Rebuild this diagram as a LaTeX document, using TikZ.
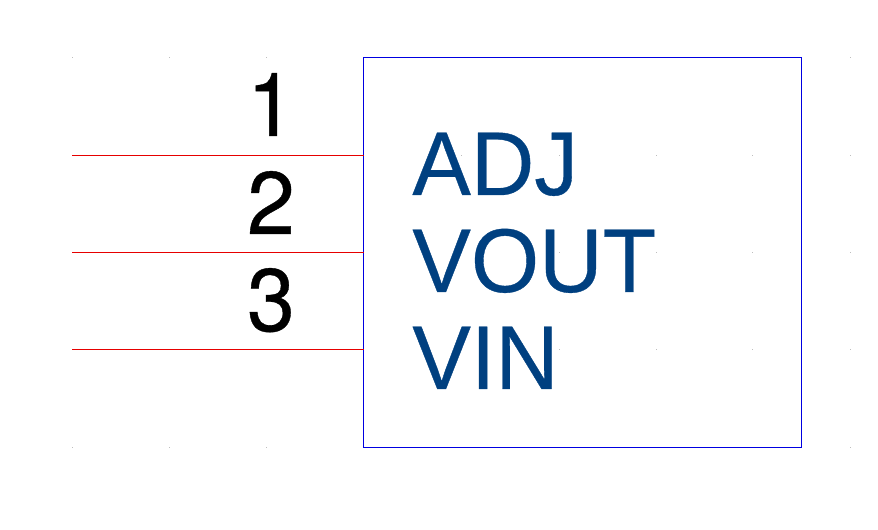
\documentclass[tikz,border=0pt]{standalone}
\usepackage{fontspec}
\setmainfont{Liberation Sans}
\newfontfamily\numfont[FakeBold=0.4,FakeStretch=0.97]{TeX Gyre Heros}
\newfontfamily\sigfont[FakeBold=0.4,FakeStretch=0.97]{Liberation Sans}
\usepackage{xcolor}
\definecolor{pinRed}{RGB}{230,0,0}
\definecolor{bodyBlue}{RGB}{0,0,225}
\definecolor{nameBlue}{RGB}{0,64,128}
\definecolor{gridGray}{RGB}{190,190,190}

\begin{document}
\begin{tikzpicture}[
    pin/.style={line width=.02cm, draw=pinRed},
    body/.style={
        rectangle,
        minimum width=8.76cm,
        minimum height=7.8cm,
        inner sep=0,
        outer sep=0,
        line width=.02cm,
        draw=bodyBlue,
      },
    num/.style={anchor=base, inner sep=0, font=\numfont\fontsize{50.5}{50.5}\selectfont, text=black},
    sig/.style={anchor=base west, inner sep=0, font=\sigfont\fontsize{51.5}{51.5}\selectfont, text=nameBlue},
  ]
  \useasboundingbox (0,0) rectangle (17.56,10.6);

  % grid marks
  \foreach \gx in {1.45,3.39,5.33,7.27,9.23,11.19,13.13,15.05,17.01} {
      \foreach \gy in {1.65,3.61,5.55,7.49,9.45} {
          \fill[gridGray] (\gx-.01,\gy-.01) rectangle (\gx+.01,\gy+.01);
        }
    }

  \node[body] (chip) at (11.65,5.55) {};

  \coordinate (A) at (1.44,7.49);
  \coordinate (B) at (1.44,5.55);
  \coordinate (C) at (1.44,3.61);

  \draw[pin] (A) -- (A -| chip.west);
  \draw[pin] (B) -- (B -| chip.west);
  \draw[pin] (C) -- (C -| chip.west);

  \node[num] (n1) at (5.42,7.88) {1};
  \node[num] (n2) at (5.42,5.92) {2};
  \node[num] (n3) at (5.42,3.98) {3};

  \node[sig] (adj) at (8.24,6.70) {ADJ};
  \node[sig] (vout) at (8.24,4.76) {VOUT};
  \node[sig] (vin) at (8.24,2.82) {VIN};
\end{tikzpicture}
\end{document}
